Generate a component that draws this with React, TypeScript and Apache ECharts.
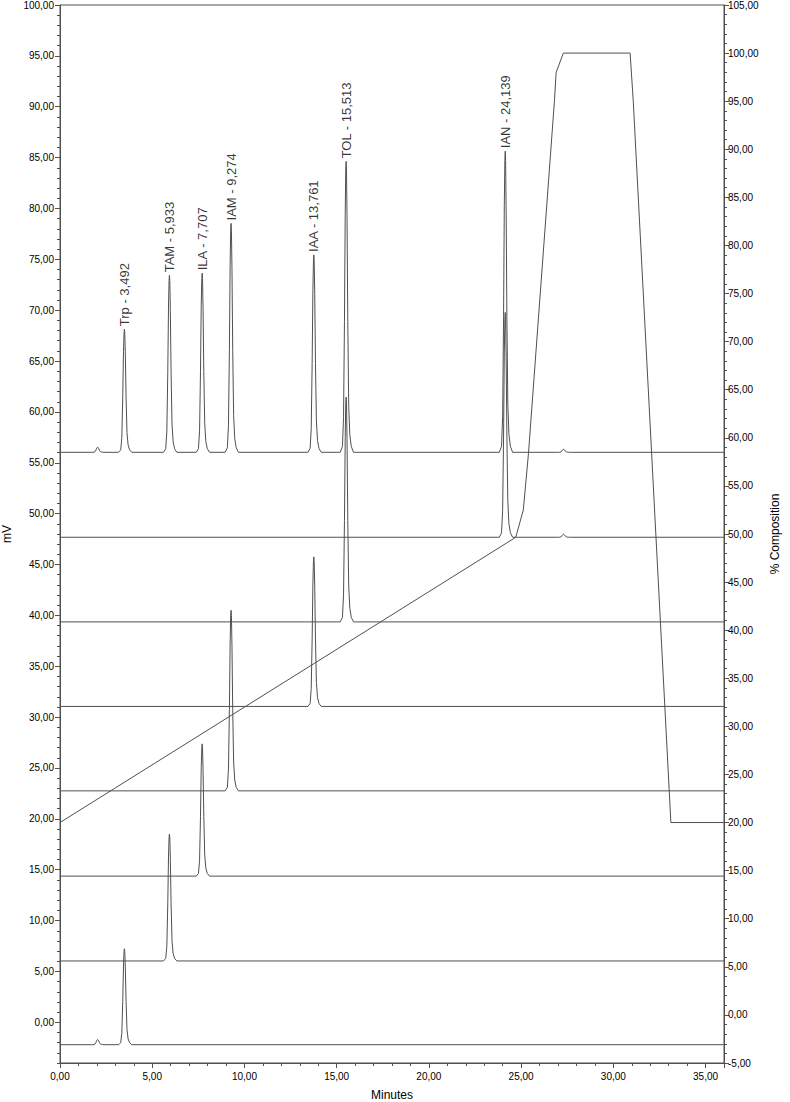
import React, { useEffect, useRef } from "react";
import * as echarts from "echarts";

// ---- Axis ticks ----
const minuteTicks = [0, 5, 10, 15, 20, 25, 30, 35];
const mvTicks = [0, 5, 10, 15, 20, 25, 30, 35, 40, 45, 50, 55, 60, 65, 70, 75, 80, 85, 90, 95, 100];

// ---- Peak shape: time offset (min) and fraction of apex height ----
const profileOffsets = [-0.32, -0.2, -0.14, -0.09, -0.05, -0.02, 0, 0.02, 0.05, 0.09, 0.14, 0.2, 0.28, 0.4];
const profileFractions = [0, 0.02, 0.12, 0.45, 0.82, 0.97, 1, 0.97, 0.8, 0.45, 0.16, 0.06, 0.02, 0];

// ---- Chromatograms (stacked, mV) ----
const traceBaselines = [-2.2, 6.03, 14.37, 22.75, 31.05, 39.36, 47.68, 56.03];
const tracePeakTimes = [
  [2.04, 3.492],
  [5.933],
  [7.707],
  [9.274],
  [13.761],
  [15.513],
  [24.139, 27.3],
  [2.04, 3.492, 5.933, 7.707, 9.274, 13.761, 15.513, 24.139, 27.3],
];
const tracePeakHeights = [
  [0.5, 9.43],
  [12.47],
  [13.0],
  [17.75],
  [14.7],
  [22.1],
  [22.1, 0.3],
  [0.5, 12.1, 17.4, 17.6, 22.5, 19.4, 28.6, 29.6, 0.3],
];

// ---- Peak labels (top trace) ----
const labelNames = ["Trp - 3,492", "TAM - 5,933", "ILA - 7,707", "IAM - 9,274", "IAA - 13,761", "TOL - 15,513", "IAN - 24,139"];
const labelTimes = [3.492, 5.933, 7.707, 9.274, 13.761, 15.513, 24.139];
const labelApex = [68.13, 73.43, 73.63, 78.53, 75.43, 84.63, 85.63];

// ---- Gradient (% composition) ----
const gradTimes = [0, 24.71, 25.12, 25.4, 26.81, 26.9, 27.29, 30.91, 31.08, 33.12, 36];
const gradPct = [20, 49.66, 52.5, 58.4, 95.1, 98.0, 100, 100, 95, 20, 20];

const FONT = "'Liberation Sans', Arial, sans-serif";
const LINE = "#505050";
const fmt = (v: number) => v.toFixed(2).replace(".", ",");

function buildTrace(i: number): number[][] {
  const base = traceBaselines[i];
  const pts: number[][] = [[0, base]];
  const times = tracePeakTimes[i];
  const heights = tracePeakHeights[i];
  for (let p = 0; p < times.length; p++) {
    for (let k = 0; k < profileOffsets.length; k++) {
      pts.push([times[p] + profileOffsets[k], base + heights[p] * profileFractions[k]]);
    }
  }
  pts.push([36, base]);
  return pts;
}

export default function App() {
  const ref = useRef<HTMLDivElement>(null);
  useEffect(() => {
    if (!ref.current) return;
    const chart = echarts.init(ref.current, undefined, { renderer: "svg" });
    const traceSeries = traceBaselines.map((_, i) => ({
      type: "line",
      xAxisIndex: 0,
      yAxisIndex: 0,
      data: buildTrace(i),
      showSymbol: false,
      symbol: "none",
      lineStyle: { color: LINE, width: 1 },
      silent: true,
      z: 3,
    }));
    chart.setOption({
      animation: false,
      backgroundColor: "#fff",
      grid: {
        left: 60,
        right: 66,
        top: 5,
        bottom: 39,
        show: true,
        borderColor: LINE,
        borderWidth: 1,
        containLabel: false,
        outerBoundsMode: "none",
      },
      xAxis: [
        {
          type: "value",
          min: 0,
          max: 36,
          interval: 5,
          name: "Minutes",
          nameLocation: "middle",
          nameGap: 26,
          nameTextStyle: { fontFamily: FONT, fontSize: 12, color: "#000" },
          axisLine: { show: true, onZero: false, lineStyle: { color: LINE } },
          axisTick: { show: true, length: 5, lineStyle: { color: LINE } },
          minorTick: { show: true, splitNumber: 5, length: 3, lineStyle: { color: LINE } },
          axisLabel: { fontFamily: FONT, fontSize: 10, color: "#000", margin: 8, formatter: fmt },
          splitLine: { show: false },
          minorSplitLine: { show: false },
        },
      ],
      yAxis: [
        {
          type: "value",
          min: -4,
          max: 100,
          position: "left",
          name: "mV",
          nameLocation: "middle",
          nameGap: 45,
          nameRotate: 90,
          nameTextStyle: { fontFamily: FONT, fontSize: 12, color: "#000" },
          axisLine: { show: true, onZero: false, lineStyle: { color: LINE } },
          axisTick: { show: true, length: 5, customValues: mvTicks, lineStyle: { color: LINE } },
          axisLabel: { fontFamily: FONT, fontSize: 10, color: "#000", margin: 6, customValues: mvTicks, formatter: fmt },
          splitLine: { show: false },
        },
        {
          type: "value",
          min: -5,
          max: 105,
          interval: 5,
          position: "right",
          name: "% Composition",
          nameLocation: "middle",
          nameGap: 45,
          nameRotate: 90,
          nameTextStyle: { fontFamily: FONT, fontSize: 12, color: "#000" },
          axisLine: { show: true, onZero: false, lineStyle: { color: LINE } },
          axisTick: { show: true, length: 5, lineStyle: { color: LINE } },
          minorTick: { show: true, splitNumber: 5, length: 3, lineStyle: { color: LINE } },
          axisLabel: { fontFamily: FONT, fontSize: 10, color: "#000", margin: 4, formatter: fmt },
          splitLine: { show: false },
          minorSplitLine: { show: false },
        },
        {
          type: "value",
          min: -4,
          max: 100,
          interval: 1,
          position: "left",
          axisLine: { show: false, onZero: false },
          axisTick: { show: true, length: 3, lineStyle: { color: LINE } },
          axisLabel: { show: false },
          splitLine: { show: false },
        },
      ],
      series: [
        ...traceSeries,
        {
          type: "line",
          xAxisIndex: 0,
          yAxisIndex: 1,
          data: gradTimes.map((t, i) => [t, gradPct[i]]),
          showSymbol: false,
          symbol: "none",
          lineStyle: { color: LINE, width: 1 },
          silent: true,
          z: 4,
        },
        {
          type: "scatter",
          xAxisIndex: 0,
          yAxisIndex: 0,
          data: labelTimes.map((t, i) => [t, labelApex[i], labelNames[i]]),
          symbolSize: 0,
          silent: true,
          z: 5,
          label: {
            show: true,
            position: "top",
            distance: 3,
            rotate: 90,
            align: "left",
            verticalAlign: "middle",
            fontFamily: FONT,
            fontSize: 13,
            color: "#000",
            formatter: (p: any) => p.data[2],
          },
        },
      ],
    });
    return () => chart.dispose();
  }, []);
  return (
    <div
      ref={ref}
      style={{ position: "absolute", left: 0, top: 0, width: 790, height: 1102, background: "#fff" }}
    />
  );
}
